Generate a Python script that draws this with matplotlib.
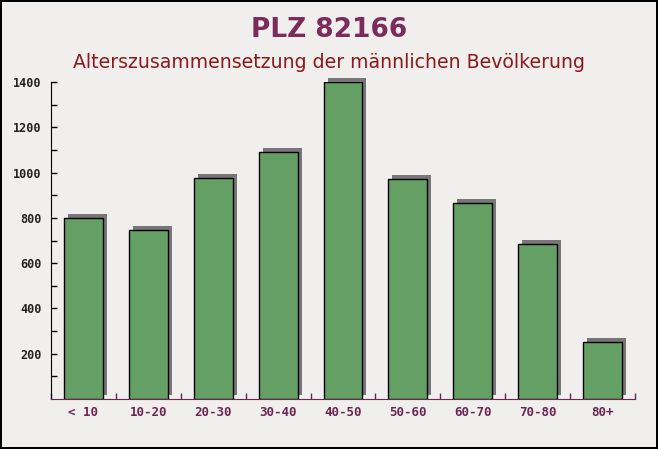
import matplotlib
matplotlib.use("Agg")
import matplotlib.pyplot as plt
import matplotlib.transforms as mtransforms
import numpy as np

# Daten
kategorien = ["< 10", "10-20", "20-30", "30-40", "40-50", "50-60", "60-70", "70-80", "80+"]
werte = [800, 746, 976, 1091, 1400, 972, 866, 685, 252]
y_ticks = [200, 400, 600, 800, 1000, 1200, 1400]

fig = plt.figure(figsize=(6.58, 4.49), dpi=100)
fig.patch.set_facecolor("#f1eeee")
fig.patch.set_edgecolor("black")
fig.patch.set_linewidth(1.5)

ax = fig.add_axes([51 / 658, 1 - 399 / 449, 584 / 658, 317 / 449])
ax.set_facecolor("none")

x = np.arange(len(kategorien))

# Schatten der Balken
schatten = mtransforms.offset_copy(ax.transData, fig=fig, x=4, y=4, units="dots")
ax.bar(x, werte, width=0.6, color="#5a5a5a", alpha=0.8, transform=schatten,
       clip_on=False, zorder=2)
# Balken
ax.bar(x, werte, width=0.6, color="#64a064", edgecolor="black", linewidth=1.0,
       zorder=3)

ax.set_xlim(-0.5, len(kategorien) - 0.5)
ax.set_ylim(0, 1400)

ax.set_yticks(y_ticks)
ax.set_yticks(np.arange(100, 1400, 200), minor=True)
ax.set_yticklabels([str(v) for v in y_ticks], family="DejaVu Sans Mono",
                   fontweight="bold", fontsize=8.5, color="#222222")
ax.tick_params(axis="y", which="both", direction="in", length=4, width=1, pad=7)

ax.set_xticks(x)
ax.set_xticklabels(kategorien, family="DejaVu Sans Mono", fontsize=9,
                   fontweight="bold", color="#6a2850")
ax.set_xticks(np.arange(-0.5, len(kategorien), 1), minor=True)
ax.tick_params(axis="x", which="major", length=0, pad=5)
ax.tick_params(axis="x", which="minor", direction="in", length=4, width=1,
               color="#6a2850")

for s in ["top", "right"]:
    ax.spines[s].set_visible(False)
ax.spines["left"].set_color("black")
ax.spines["bottom"].set_color("#6a2850")

fig.text(0.5, 1 - 30 / 449, "PLZ 82166", ha="center", va="center",
         fontsize=19, fontweight="bold", color="#7b2c5c", family="DejaVu Sans")
fig.text(0.5, 1 - 62 / 449, "Alterszusammensetzung der männlichen Bevölkerung",
         ha="center", va="center", fontsize=13.6, color="#8b1a1a",
         family="DejaVu Sans")

fig.savefig("out.png", dpi=100, facecolor=fig.get_facecolor(),
            edgecolor=fig.get_edgecolor())
